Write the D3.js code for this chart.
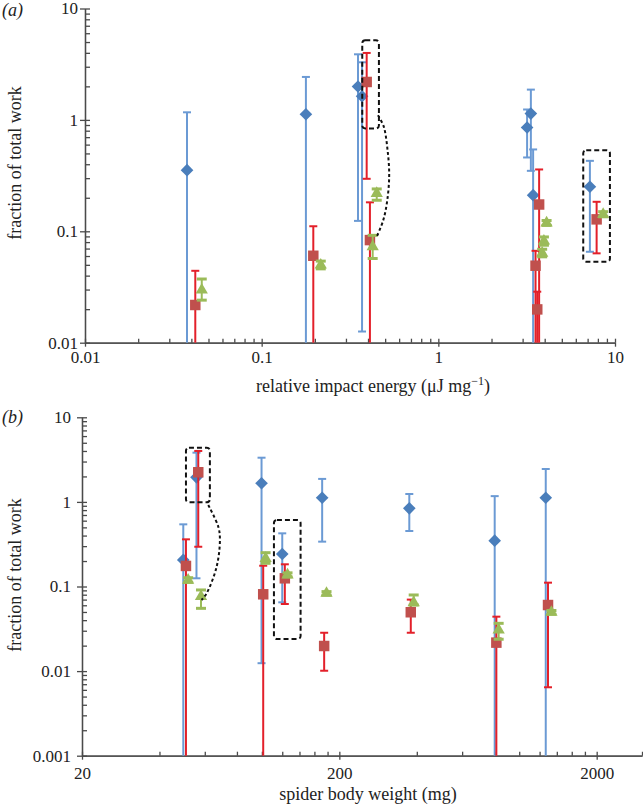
<!DOCTYPE html>
<html>
<head>
<meta charset="utf-8">
<script src="https://cdn.jsdelivr.net/npm/d3@7"></script>
<style>
  body { margin: 0; background: #fff; }
  text { font-family: "Liberation Serif", "DejaVu Serif", serif; fill: #222; }
</style>
</head>
<body>
<div id="chart"></div>
<script>
// panel (a): fraction of total work vs relative impact energy
// lo: null means the lower error bar runs off the bottom of the log axis
const aBlue = [
  { x: 0.0378, y: 0.354, lo: null, hi: 1.17 },
  { x: 0.178, y: 1.125, lo: null, hi: 2.43 },
  { x: 0.351, y: 1.995, lo: 0.124, hi: 3.88 },
  { x: 0.37, y: 1.63, lo: 0.0126, hi: 3.29 },
  { x: 3.34, y: 1.14, lo: 0.349, hi: 1.87 },
  { x: 3.18, y: 0.855, lo: 0.46, hi: 1.24 },
  { x: 3.44, y: 0.211, lo: null, hi: 0.543 },
  { x: 7.21, y: 0.251, lo: 0.0655, hi: 0.429 }
];
const aRed = [
  { x: 0.0421, y: 0.0218, lo: null, hi: 0.0442 },
  { x: 0.196, y: 0.0603, lo: null, hi: 0.111 },
  { x: 0.393, y: 2.19, lo: 0.296, hi: 3.99 },
  { x: 0.41, y: 0.0834, lo: null, hi: 0.182 },
  { x: 3.72, y: 0.174, lo: null, hi: 0.359 },
  { x: 3.55, y: 0.0491, lo: null, hi: 0.0668 },
  { x: 3.63, y: 0.0199, lo: null, hi: 0.0287 },
  { x: 7.87, y: 0.128, lo: 0.0634, hi: 0.184 }
];
const aGreen = [
  { x: 0.0458, y: 0.0297, lo: 0.0241, hi: 0.0373 },
  { x: 0.216, y: 0.0498, lo: 0.046, hi: 0.054 },
  { x: 0.448, y: 0.219, lo: 0.19, hi: 0.24 },
  { x: 0.425, y: 0.0726, lo: 0.057, hi: 0.092 },
  { x: 4.10, y: 0.119, lo: 0.113, hi: 0.125 },
  { x: 3.96, y: 0.0817, lo: 0.075, hi: 0.089 },
  { x: 3.87, y: 0.0637, lo: 0.059, hi: 0.069 },
  { x: 8.57, y: 0.142, lo: 0.135, hi: 0.15 }
];

// panel (b): fraction of total work vs spider body weight
const bBlue = [
  { x: 49.5, y: 0.206, lo: null, hi: 0.543 },
  { x: 55.7, y: 1.95, lo: 0.125, hi: 3.82 },
  { x: 99.7, y: 1.66, lo: 0.0124, hi: 3.33 },
  { x: 120, y: 0.242, lo: 0.065, hi: 0.425 },
  { x: 171.5, y: 1.12, lo: 0.339, hi: 1.87 },
  { x: 374, y: 0.84, lo: 0.453, hi: 1.24 },
  { x: 803, y: 0.348, lo: null, hi: 1.17 },
  { x: 1268, y: 1.12, lo: null, hi: 2.45 }
];
const bRed = [
  { x: 50.7, y: 0.175, lo: null, hi: 0.361 },
  { x: 56.6, y: 2.24, lo: 0.295, hi: 4.0 },
  { x: 101.2, y: 0.0809, lo: null, hi: 0.176 },
  { x: 122.8, y: 0.125, lo: 0.0621, hi: 0.183 },
  { x: 174.6, y: 0.0198, lo: 0.0101, hi: 0.0284 },
  { x: 379, y: 0.0496, lo: 0.0284, hi: 0.07 },
  { x: 815, y: 0.0217, lo: null, hi: 0.044 },
  { x: 1294, y: 0.0604, lo: 0.00644, hi: 0.111 }
];
const bGreen = [
  { x: 51.7, y: 0.119, lo: 0.112, hi: 0.127 },
  { x: 58.0, y: 0.0762, lo: 0.0552, hi: 0.091 },
  { x: 103.4, y: 0.215, lo: 0.188, hi: 0.251 },
  { x: 125.8, y: 0.137, lo: 0.13, hi: 0.145 },
  { x: 178.3, y: 0.0832, lo: 0.079, hi: 0.087 },
  { x: 389, y: 0.0644, lo: 0.0604, hi: 0.0794 },
  { x: 832, y: 0.0306, lo: 0.0238, hi: 0.0367 },
  { x: 1334, y: 0.0496, lo: 0.047, hi: 0.052 }
];

// tick labels
const aXTicks = [0.01, 0.1, 1, 10];
const aYTicks = [0.01, 0.1, 1, 10];
const bXTicks = [20, 200, 2000];
const bYTicks = [0.001, 0.01, 0.1, 1, 10];

// annotations (data units)
const aBoxes = [
  { x0: 0.371, x1: 0.461, y0: 0.838, y1: 5.19 },
  { x0: 6.61, x1: 9.36, y0: 0.0533, y1: 0.535 }
];
const aCurve = [[0.455, 1.10], [0.49, 0.88], [0.516, 0.535], [0.527, 0.319], [0.514, 0.19], [0.488, 0.126], [0.448, 0.0893]];
const bBoxes = [
  { x0: 50.7, x1: 62.8, y0: 0.99, y1: 4.37 },
  { x0: 111.4, x1: 141.4, y0: 0.0239, y1: 0.611 }
];
const bCurve = [[61.9, 0.919], [67.7, 0.509], [68.7, 0.355], [66.7, 0.171], [61.0, 0.0831], [58.3, 0.0692]];

const W = 643, H = 805;
const svg = d3.select("#chart").append("svg")
  .attr("width", W).attr("height", H);

const series = [
  { key: "blue", bar: "#6b9ad4", fill: "#4a7ebb", shape: "diamond", cap: 4, sw: 2 },
  { key: "red", bar: "#e3202a", fill: "#c0504d", shape: "square", cap: 4, sw: 2 },
  { key: "green", bar: "#9bbb59", fill: "#9bbb59", shape: "triangle", cap: 5, sw: 3 }
];

function minorTicks(majors, domain) {
  const out = [];
  majors.forEach(t => {
    for (let m = 2; m <= 9; m++) if (t * m <= domain[1]) out.push(t * m);
  });
  return out;
}

function drawPanel(p) {
  const x = d3.scaleLog().domain(p.xDomain).range(p.xRange);
  const y = d3.scaleLog().domain(p.yDomain).range(p.yRange);
  const g = svg.append("g");

  // axes: labelled major ticks outside, all ticks inside
  const xl = g.append("g")
    .attr("transform", `translate(0,${p.yRange[0]})`)
    .call(d3.axisBottom(x).tickValues(p.xTicks).tickFormat(d => String(d))
      .tickSize(4).tickSizeOuter(0).tickPadding(p.xPad));
  const xi = g.append("g")
    .attr("transform", `translate(0,${p.yRange[0]})`)
    .call(d3.axisTop(x).tickValues(p.xTicks.concat(minorTicks(p.xTicks, p.xDomain), p.xEnd))
      .tickFormat("").tickSize(4).tickSizeOuter(0));
  const yl = g.append("g")
    .attr("transform", `translate(${p.xRange[0]},0)`)
    .call(d3.axisLeft(y).tickValues(p.yTicks).tickFormat(d => String(d))
      .tickSize(5).tickSizeOuter(0).tickPadding(p.yPad));
  const yi = g.append("g")
    .attr("transform", `translate(${p.xRange[0]},0)`)
    .call(d3.axisRight(y).tickValues(p.yTicks.concat(minorTicks(p.yTicks, p.yDomain)))
      .tickFormat("").tickSize(5).tickSizeOuter(0));
  [xl, xi, yl, yi].forEach(a => {
    a.selectAll("path, line").attr("stroke", "#4a4a4a").attr("stroke-width", 1.3);
    a.selectAll("text").style("font-size", "17px").attr("fill", "#222");
  });

  // data
  series.forEach(s => {
    const data = p.data[s.key];
    const sg = g.append("g");
    const yLo = d => y(d.lo == null ? p.yDomain[0] : d.lo);
    sg.selectAll("line.bar").data(data).join("line")
      .attr("x1", d => x(d.x)).attr("x2", d => x(d.x))
      .attr("y1", yLo).attr("y2", d => y(d.hi))
      .attr("stroke", s.bar).attr("stroke-width", 2);
    sg.selectAll("line.hicap").data(data).join("line")
      .attr("x1", d => x(d.x) - s.cap).attr("x2", d => x(d.x) + s.cap)
      .attr("y1", d => y(d.hi)).attr("y2", d => y(d.hi))
      .attr("stroke", s.bar).attr("stroke-width", s.sw);
    sg.selectAll("line.locap").data(data.filter(d => d.lo != null)).join("line")
      .attr("x1", d => x(d.x) - s.cap).attr("x2", d => x(d.x) + s.cap)
      .attr("y1", d => y(d.lo)).attr("y2", d => y(d.lo))
      .attr("stroke", s.bar).attr("stroke-width", s.sw);

    let sym, rot = 0;
    if (s.shape === "diamond") { sym = d3.symbol(d3.symbolSquare, 80); rot = 45; }
    else if (s.shape === "square") sym = d3.symbol(d3.symbolSquare, 110);
    else sym = d3.symbol(d3.symbolTriangle, 65);
    sg.selectAll("path.mark").data(data).join("path")
      .attr("d", sym)
      .attr("transform", d => `translate(${x(d.x)},${y(d.y)}) rotate(${rot})`)
      .attr("fill", s.fill);
  });

  // dashed boxes and dotted connector
  g.selectAll("rect.box").data(p.boxes).join("rect")
    .attr("x", d => x(d.x0)).attr("width", d => x(d.x1) - x(d.x0))
    .attr("y", d => y(d.y1)).attr("height", d => y(d.y0) - y(d.y1))
    .attr("rx", 3)
    .attr("fill", "none").attr("stroke", "#111")
    .attr("stroke-width", 2).attr("stroke-dasharray", "5,3");
  g.append("path")
    .datum(p.curve)
    .attr("d", d3.line().x(d => x(d[0])).y(d => y(d[1])).curve(d3.curveCatmullRom))
    .attr("fill", "none").attr("stroke", "#111")
    .attr("stroke-width", 2).attr("stroke-dasharray", "3,2.5");

  // titles
  svg.append("text")
    .attr("x", 2).attr("y", p.labelY)
    .style("font-size", "18px").style("font-style", "italic")
    .text(p.label);
  svg.append("text")
    .attr("transform", `translate(21,${p.yTitleY}) rotate(-90)`)
    .attr("text-anchor", "middle")
    .style("font-size", "18px")
    .text("fraction of total work");
  const xt = svg.append("text")
    .attr("x", p.xTitleX).attr("y", p.xTitleY)
    .attr("text-anchor", "middle")
    .style("font-size", "18px");
  p.xTitle(xt);
}

drawPanel({
  xDomain: [0.01, 10], yDomain: [0.01, 10],
  xRange: [85, 615], yRange: [342.7, 8.5],
  xTicks: aXTicks, yTicks: aYTicks, xEnd: [],
  xPad: 4, yPad: 2,
  data: { blue: aBlue, red: aRed, green: aGreen },
  boxes: aBoxes, curve: aCurve,
  label: "(a)", labelY: 16,
  yTitleY: 163, xTitleX: 373, xTitleY: 392,
  xTitle: t => {
    t.append("tspan").text("relative impact energy (\u03bcJ mg");
    t.append("tspan").attr("dy", -7).style("font-size", "12px").text("\u22121");
    t.append("tspan").attr("dy", 7).text(")");
  }
});

drawPanel({
  xDomain: [20, 3000], yDomain: [0.001, 10],
  xRange: [82, 642], yRange: [755.7, 417.3],
  xTicks: bXTicks, yTicks: bYTicks, xEnd: [3000],
  xPad: 7, yPad: 6,
  data: { blue: bBlue, red: bRed, green: bGreen },
  boxes: bBoxes, curve: bCurve,
  label: "(b)", labelY: 423,
  yTitleY: 575, xTitleX: 368, xTitleY: 800,
  xTitle: t => t.text("spider body weight (mg)")
});
</script>
</body>
</html>
